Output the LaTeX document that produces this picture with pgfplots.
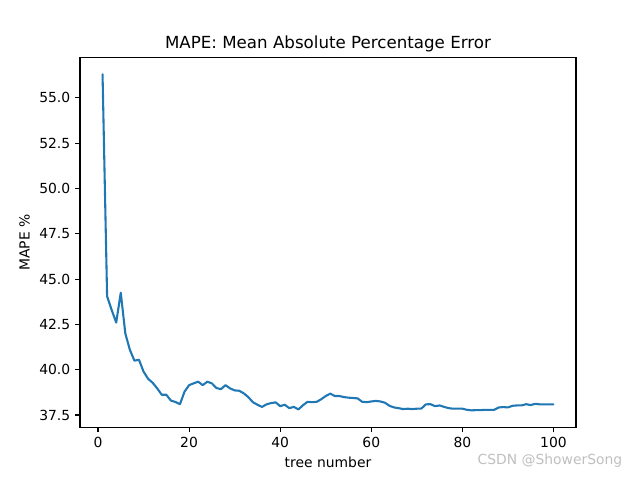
\documentclass[border=0pt]{standalone}
\usepackage{fontspec}
\setmainfont{DejaVu Sans}
\usepackage{pgfplots}
\pgfplotsset{compat=1.18}
\definecolor{mplblue}{HTML}{1F77B4}
\begin{document}
\begin{tikzpicture}
\useasboundingbox (-57.6pt,-38.02pt) rectangle (403.2pt,307.58pt);
\begin{axis}[
  at={(0,0)}, anchor=south west,
  scale only axis,
  width=357.12pt, height=266.11pt,
  xmin=-3.95, xmax=104.95,
  ymin=36.83, ymax=57.22,
  xtick={0,20,40,60,80,100},
  ytick={37.5,40,42.5,45,47.5,50,52.5,55},
  xtick pos=bottom, ytick pos=left,
  yticklabel style={/pgf/number format/.cd,fixed,fixed zerofill,precision=1},
  /pgf/number format/assume math mode=true,
  tick align=outside,
  major tick length=3.5pt,
  tick style={black, line width=0.8pt},
  axis line style={line width=0.8pt},
  ticklabel style={font=\fontsize{10}{12}\selectfont},
  title={MAPE: Mean Absolute Percentage Error},
  title style={font=\fontsize{12}{14}\selectfont, yshift=-5.3pt},
  xlabel={tree number},
  ylabel={MAPE \%},
  label style={font=\fontsize{10}{12}\selectfont},
  clip=false,
]
\addplot[mplblue, line width=1.5pt, line join=round, line cap=round] coordinates {
(1,56.3) (2,44.05) (3,43.3) (4,42.6) (5,44.25) (6,42.0) (7,41.1) (8,40.5) (9,40.55) (10,39.9)
(11,39.5) (12,39.28) (13,38.97) (14,38.62) (15,38.62) (16,38.3) (17,38.22) (18,38.1) (19,38.79) (20,39.15)
(21,39.25) (22,39.34) (23,39.15) (24,39.34) (25,39.25) (26,38.99) (27,38.93) (28,39.15) (29,38.97) (30,38.86)
(31,38.84) (32,38.7) (33,38.49) (34,38.21) (35,38.07) (36,37.95) (37,38.09) (38,38.16) (39,38.2) (40,37.99)
(41,38.07) (42,37.88) (43,37.95) (44,37.81) (45,38.04) (46,38.23) (47,38.21) (48,38.23) (49,38.37) (50,38.55)
(51,38.68) (52,38.55) (53,38.55) (54,38.49) (55,38.46) (56,38.44) (57,38.42) (58,38.23) (59,38.21) (60,38.25)
(61,38.28) (62,38.25) (63,38.18) (64,38.01) (65,37.92) (66,37.88) (67,37.83) (68,37.85) (69,37.83) (70,37.85)
(71,37.86) (72,38.09) (73,38.1) (74,37.99) (75,38.03) (76,37.95) (77,37.88) (78,37.85) (79,37.85) (80,37.85)
(81,37.79) (82,37.76) (83,37.77) (84,37.77) (85,37.79) (86,37.79) (87,37.79) (88,37.92) (89,37.94) (90,37.92)
(91,38.01) (92,38.03) (93,38.03) (94,38.1) (95,38.05) (96,38.12) (97,38.09) (98,38.09) (99,38.09) (100,38.09)
};
\end{axis}
\node[anchor=center, text=black!25, font=\fontsize{10}{12}\selectfont] at (338.4pt,-24.3pt) {CSDN @ShowerSong};
\end{tikzpicture}
\end{document}
